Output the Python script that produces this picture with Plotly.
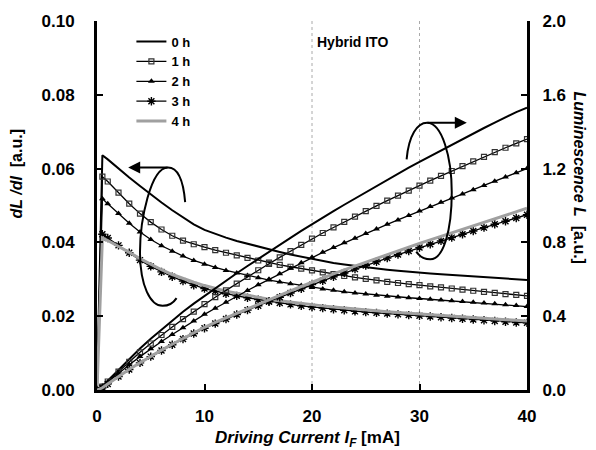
import plotly.graph_objects as go

# ---------------- data ----------------
current = [0, 0.5] + list(range(1, 41))

dldi_0h = [0, 0.0636, 0.0625, 0.0600, 0.0576, 0.0553, 0.0530, 0.0508, 0.0487, 0.0467, 0.0449,
           0.0434, 0.0423, 0.0413, 0.0404, 0.0396, 0.0388, 0.0381, 0.0374, 0.0367, 0.0361,
           0.0355, 0.0349, 0.0344, 0.0340, 0.0336, 0.0332, 0.0329, 0.0326, 0.0323, 0.0320,
           0.0318, 0.0316, 0.0314, 0.0312, 0.0310, 0.0308, 0.0306, 0.0304, 0.0302, 0.0300, 0.0298]
dldi_1h = [0, 0.0578, 0.0565, 0.0535, 0.0505, 0.0478, 0.0455, 0.0435, 0.0418, 0.0405, 0.0395,
           0.0387, 0.0379, 0.0372, 0.0365, 0.0358, 0.0351, 0.0345, 0.0339, 0.0334, 0.0329,
           0.0324, 0.0319, 0.0314, 0.0309, 0.0305, 0.0301, 0.0297, 0.0293, 0.0290, 0.0287,
           0.0284, 0.0281, 0.0278, 0.0275, 0.0272, 0.0269, 0.0266, 0.0263, 0.0260, 0.0258, 0.0255]
dldi_2h = [0, 0.0518, 0.0505, 0.0478, 0.0452, 0.0428, 0.0408, 0.0391, 0.0376, 0.0363, 0.0351,
           0.0341, 0.0332, 0.0324, 0.0317, 0.0310, 0.0304, 0.0298, 0.0293, 0.0288, 0.0283,
           0.0278, 0.0274, 0.0270, 0.0266, 0.0263, 0.0260, 0.0257, 0.0254, 0.0252, 0.0250,
           0.0248, 0.0246, 0.0244, 0.0242, 0.0240, 0.0238, 0.0236, 0.0234, 0.0231, 0.0229, 0.0226]
dldi_3h = [0, 0.0422, 0.0412, 0.0392, 0.0372, 0.0352, 0.0335, 0.0320, 0.0307, 0.0295, 0.0284,
           0.0275, 0.0268, 0.0261, 0.0255, 0.0250, 0.0245, 0.0240, 0.0236, 0.0232, 0.0228,
           0.0225, 0.0222, 0.0219, 0.0216, 0.0213, 0.0211, 0.0209, 0.0207, 0.0205, 0.0203,
           0.0201, 0.0199, 0.0197, 0.0195, 0.0193, 0.0191, 0.0189, 0.0187, 0.0185, 0.0183, 0.0182]
dldi_4h = [0, 0.0412, 0.0405, 0.0390, 0.0373, 0.0356, 0.0340, 0.0326, 0.0313, 0.0302, 0.0292,
           0.0283, 0.0275, 0.0268, 0.0262, 0.0256, 0.0251, 0.0246, 0.0242, 0.0238, 0.0234,
           0.0231, 0.0228, 0.0225, 0.0222, 0.0219, 0.0217, 0.0214, 0.0212, 0.0210, 0.0208,
           0.0206, 0.0204, 0.0202, 0.0200, 0.0198, 0.0196, 0.0194, 0.0192, 0.0190, 0.0189, 0.0187]

lum_0h = [0, 0.020, 0.050, 0.110, 0.170, 0.225, 0.278, 0.328, 0.377, 0.424, 0.468,
          0.510, 0.552, 0.593, 0.633, 0.672, 0.711, 0.749, 0.787, 0.825, 0.862,
          0.899, 0.934, 0.969, 1.004, 1.038, 1.072, 1.106, 1.139, 1.172, 1.205,
          1.237, 1.268, 1.299, 1.330, 1.360, 1.390, 1.420, 1.449, 1.478, 1.506, 1.530]
lum_1h = [0, 0.018, 0.046, 0.100, 0.153, 0.204, 0.252, 0.298, 0.342, 0.384, 0.425,
          0.465, 0.503, 0.540, 0.577, 0.613, 0.649, 0.684, 0.719, 0.753, 0.787,
          0.820, 0.851, 0.881, 0.911, 0.940, 0.969, 0.998, 1.026, 1.054, 1.081,
          1.108, 1.135, 1.161, 1.187, 1.213, 1.239, 1.264, 1.289, 1.313, 1.337, 1.360]
lum_2h = [0, 0.017, 0.042, 0.091, 0.137, 0.181, 0.223, 0.263, 0.301, 0.338, 0.374,
          0.410, 0.443, 0.476, 0.508, 0.539, 0.570, 0.600, 0.630, 0.660, 0.690,
          0.720, 0.746, 0.772, 0.798, 0.823, 0.848, 0.873, 0.898, 0.922, 0.946,
          0.970, 0.994, 1.017, 1.040, 1.063, 1.086, 1.109, 1.132, 1.155, 1.177, 1.200]
lum_3h = [0, 0.012, 0.033, 0.073, 0.111, 0.147, 0.181, 0.214, 0.245, 0.276, 0.306,
          0.335, 0.360, 0.385, 0.409, 0.433, 0.457, 0.480, 0.503, 0.526, 0.549,
          0.571, 0.592, 0.613, 0.634, 0.655, 0.675, 0.695, 0.715, 0.734, 0.753,
          0.772, 0.790, 0.808, 0.826, 0.844, 0.862, 0.880, 0.898, 0.915, 0.932, 0.950]
lum_4h = [0, 0.012, 0.033, 0.073, 0.112, 0.148, 0.183, 0.216, 0.248, 0.279, 0.310,
          0.340, 0.366, 0.391, 0.416, 0.441, 0.465, 0.489, 0.513, 0.537, 0.561,
          0.585, 0.607, 0.629, 0.651, 0.672, 0.693, 0.714, 0.735, 0.755, 0.775,
          0.795, 0.814, 0.833, 0.852, 0.871, 0.890, 0.909, 0.928, 0.947, 0.966, 0.985]

series_names = ["0 h", "1 h", "2 h", "3 h", "4 h"]
dldi_all = [dldi_0h, dldi_1h, dldi_2h, dldi_3h, dldi_4h]
lum_all = [lum_0h, lum_1h, lum_2h, lum_3h, lum_4h]

x_ticks = [0, 10, 20, 30, 40]
y1_ticks = [0.00, 0.02, 0.04, 0.06, 0.08, 0.10]
y2_ticks = [0.0, 0.4, 0.8, 1.2, 1.6, 2.0]

# ---------------- styles ----------------
styles = [
    dict(mode="lines", line=dict(color="black", width=2)),
    dict(mode="lines+markers", line=dict(color="black", width=1.3),
         marker=dict(symbol="square-open", size=5, color="#333", line=dict(width=1.2))),
    dict(mode="lines+markers", line=dict(color="black", width=1.3),
         marker=dict(symbol="triangle-up", size=6, color="black")),
    dict(mode="lines+markers", line=dict(color="black", width=1.3),
         marker=dict(symbol="asterisk-open", size=7, color="black", line=dict(width=1.4, color="black"))),
    dict(mode="lines", line=dict(color="#a0a0a0", width=3)),
]

fig = go.Figure()
for name, d, l, st in zip(series_names, dldi_all, lum_all, styles):
    fig.add_trace(go.Scatter(x=current, y=d, name=name, legendgroup=name, showlegend=True,
                             yaxis="y", **st))
    fig.add_trace(go.Scatter(x=current, y=l, name=name, legendgroup=name, showlegend=False,
                             yaxis="y2", **st))

font_family = "Liberation Sans, Arial, sans-serif"
tick_font = dict(family=font_family, size=17, color="black", weight="bold")
title_font = dict(family=font_family, size=16, color="black", weight="bold")

# decorative rotation arrows (ellipse arcs) in axis coordinates
shapes = [
    dict(type="path", xref="x", yref="y",
         path="M 8.2,0.0509 C 8.0,0.058 7.4,0.0603 6.6,0.0603 C 5.0,0.0603 4.0,0.046 4.0,0.0375 "
              "C 4.0,0.028 5.0,0.0228 6.1,0.0228 C 6.8,0.0228 7.2,0.024 7.4,0.0249",
         line=dict(color="black", width=2)),
    dict(type="path", xref="x", yref="y",
         path="M 28.8,0.0625 C 29.0,0.069 29.8,0.0724 30.7,0.0724 C 32.1,0.0724 33.0,0.063 33.0,0.0536 "
              "C 33.0,0.043 32.2,0.0354 31.0,0.0354 C 30.4,0.0354 30.0,0.0362 29.7,0.0375",
         line=dict(color="black", width=2)),
    dict(type="line", xref="x", yref="paper", x0=20, x1=20, y0=0, y1=1,
         line=dict(color="#aaa", width=1, dash="dot"), layer="below"),
    dict(type="line", xref="x", yref="paper", x0=30, x1=30, y0=0, y1=1,
         line=dict(color="#aaa", width=1, dash="dot"), layer="below"),
]

annotations = [
    dict(x=2.9, y=0.0603, ax=6.7, ay=0.0603, xref="x", yref="y", axref="x", ayref="y",
         showarrow=True, arrowhead=2, arrowsize=1.2, arrowwidth=2, arrowcolor="black", text=""),
    dict(x=34.4, y=0.0724, ax=30.6, ay=0.0724, xref="x", yref="y", axref="x", ayref="y",
         showarrow=True, arrowhead=2, arrowsize=1.2, arrowwidth=2, arrowcolor="black", text=""),
    dict(x=20.3, y=0.0944, xref="x", yref="y", xanchor="left", yanchor="middle",
         text="Hybrid ITO", showarrow=False,
         font=dict(family=font_family, size=14, color="black", weight="bold")),
    dict(x=0.0, y=0.584, xref="paper", yref="paper", xshift=-80, textangle=-90,
         xanchor="center", yanchor="middle",
         text="<i>dL /dI</i>  [a.u.]", showarrow=False, font=title_font),
    dict(x=1.0, y=0.576, xref="paper", yref="paper", xshift=53, textangle=90,
         xanchor="center", yanchor="middle",
         text="<i>Luminescence L</i>  [a.u.]", showarrow=False, font=title_font),
    dict(x=0.49, y=0.0, xref="paper", yref="paper", yshift=-49,
         xanchor="center", yanchor="middle",
         text="<i>Driving Current I<sub>F</sub></i> [mA]", showarrow=False,
         font=dict(family=font_family, size=17, color="black", weight="bold")),
]

fig.update_layout(
    width=596, height=450,
    margin=dict(l=97, r=69, t=17, b=60),
    paper_bgcolor="white", plot_bgcolor="white",
    showlegend=True,
    legend=dict(x=0.08, y=0.985, xanchor="left", yanchor="top", bgcolor="rgba(0,0,0,0)",
                font=dict(family=font_family, size=13, color="black", weight="bold"),
                tracegroupgap=0, itemwidth=30),
    xaxis=dict(range=[0, 40], tickvals=x_ticks, ticktext=[str(v) for v in x_ticks],
               ticks="inside", ticklen=6, tickwidth=1.5, tickcolor="black", ticklabelstandoff=9,
               showline=True, linecolor="black", linewidth=3, showgrid=False, zeroline=False,
               tickfont=tick_font),
    yaxis=dict(range=[0, 0.1], tickvals=y1_ticks, tickformat=".2f",
               ticks="inside", ticklen=6, tickwidth=1.5, tickcolor="black", ticklabelstandoff=16,
               showline=True, linecolor="black", linewidth=3, showgrid=False, zeroline=False,
               tickfont=tick_font),
    yaxis2=dict(range=[0, 2.0], tickvals=y2_ticks, tickformat=".1f", overlaying="y", side="right",
                ticks="inside", ticklen=6, tickwidth=1.5, tickcolor="black", ticklabelstandoff=9,
                showline=True, linecolor="black", linewidth=3, showgrid=False, zeroline=False,
                tickfont=tick_font),
    shapes=shapes,
    annotations=annotations,
)

fig.write_html("out.html")
